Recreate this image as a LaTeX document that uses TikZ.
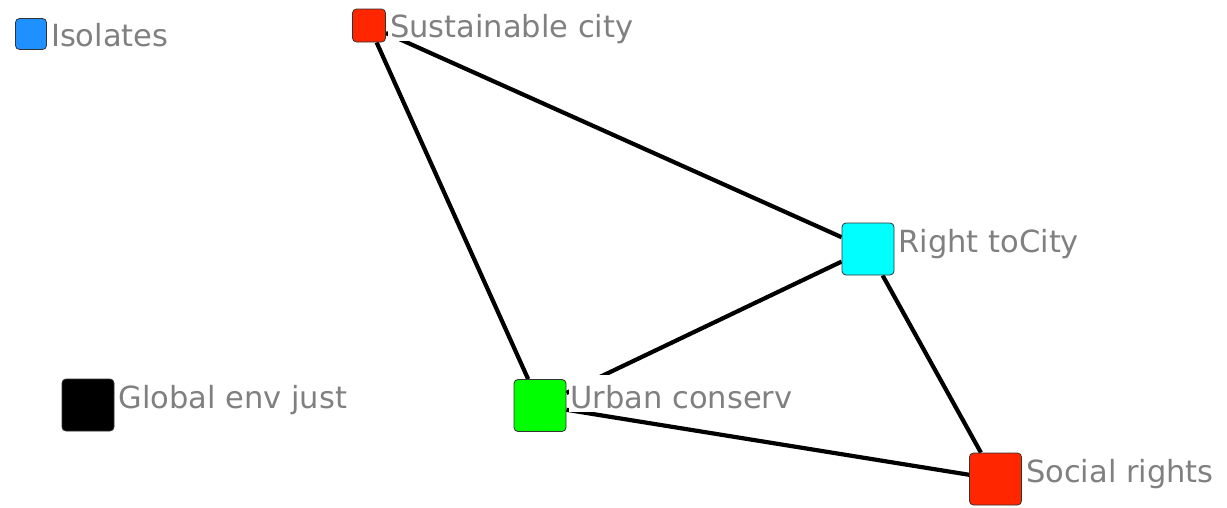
\documentclass[tikz,border=0pt]{standalone}
\usepackage{fontspec}
\setmainfont{DejaVu Sans}
\usepackage{tikz}
\usetikzlibrary{positioning}
\usetikzlibrary{backgrounds}

\definecolor{isoblue}{RGB}{30,144,255}
\definecolor{hotred}{RGB}{255,38,0}
\definecolor{aqua}{RGB}{0,255,255}
\definecolor{lime}{RGB}{0,255,0}
\definecolor{lblgray}{RGB}{128,128,128}

\tikzset{
  sq/.style={draw=black!80, line width=0.8pt, rounded corners=4pt, minimum size=#1, inner sep=0pt},
  lbl/.style={fill=white, text=lblgray, inner sep=2pt, text height=31pt, text depth=2pt, font=\fontsize{30.5}{36}\selectfont},
  tie/.style={line width=4.2pt}
}

\begin{document}
\begin{tikzpicture}[x=1pt,y=-1pt]
\path[use as bounding box] (0,0) rectangle (1227,507);
\path node[sq=31pt, fill=isoblue] (iso) at (31,34) {};
\path node[lbl, base right=2pt of iso, yshift=-12pt] (isol) {Isolates};
\path node[sq=33pt, fill=hotred] (sus) at (369,25.5) {};
\path node[lbl, base right=2pt of sus, yshift=-11.5pt] (susl) {Sustainable city};
\path node[sq=52pt, fill=aqua] (rtc) at (868,249) {};
\path node[lbl, base right=2pt of rtc, yshift=-3pt] (rtcl) {Right toCity};
\path node[sq=52pt, fill=black] (gej) at (88,405) {};
\path node[lbl, base right=2pt of gej, yshift=-3pt] (gejl) {Global env just};
\path node[sq=52pt, fill=lime] (urb) at (540,405.5) {};
\path node[lbl, base right=2pt of urb, yshift=-2.5pt] (urbl) {Urban conserv};
\path node[sq=52pt, fill=hotred] (soc) at (995.5,479) {};
\path node[lbl, base right=2pt of soc, yshift=-3pt] (socl) {Social rights};

% ties go under the boxes
\begin{scope}[on background layer]
\path[tie] (sus) edge (urb);
\path[tie] (sus) edge (rtc);
\path[tie] (rtc) edge (urb);
\path[tie] (rtc) edge (soc);
\path[tie] (urb) edge (soc);
\end{scope}
\end{tikzpicture}
\end{document}
